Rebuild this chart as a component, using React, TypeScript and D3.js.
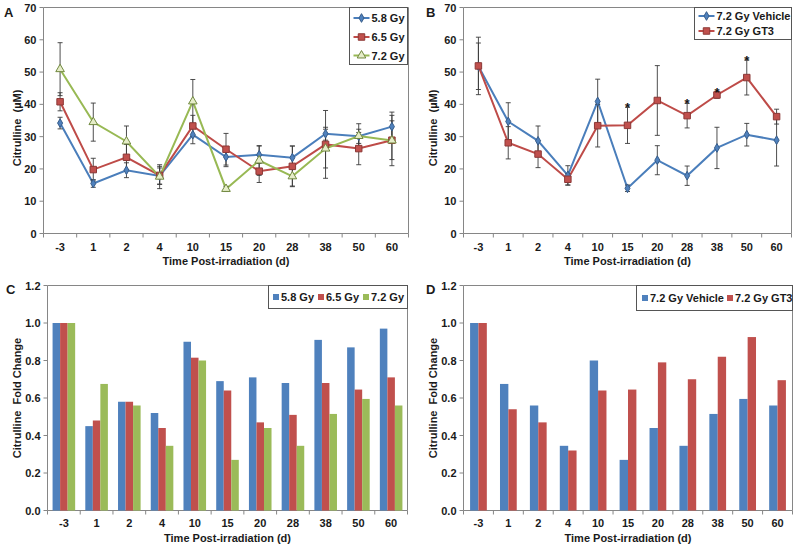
import React from "react";
import * as d3 from "d3";

// ---------- data ----------
const categories = ["-3", "1", "2", "4", "10", "15", "20", "28", "38", "50", "60"];

// Panel A: citrulline (µM) by dose
const a58 = [34.2, 15.5, 19.6, 17.8, 30.6, 23.7, 24.4, 23.5, 30.9, 30.1, 33.1];
const a58Err = [1.8, 1.2, 2.3, 2.5, 2.8, 3.0, 2.7, 3.6, 2.0, 2.2, 4.5];
const a65 = [40.8, 19.8, 23.6, 18.0, 33.3, 26.1, 19.3, 20.8, 27.6, 26.3, 28.9];
const a65Err = [2.8, 3.5, 4.0, 2.8, 3.3, 4.9, 3.5, 6.3, 10.5, 5.0, 6.0];
const a72 = [50.9, 34.5, 28.5, 17.6, 40.9, 13.8, 22.6, 17.7, 26.3, 30.2, 28.8];
const a72Err = [8.2, 5.9, 4.8, 3.7, 6.8, 0.8, 4.6, 3.0, 6.0, 3.8, 7.8];

// Panel B: 7.2 Gy vehicle vs GT3
const bVeh = [51.8, 34.7, 28.7, 18.0, 40.9, 14.0, 22.7, 17.9, 26.5, 30.6, 28.9];
const bVehErr = [7.2, 5.8, 4.6, 3.0, 6.9, 1.0, 4.5, 3.0, 6.4, 3.5, 8.0];
const bGt3 = [51.9, 28.1, 24.6, 16.8, 33.4, 33.5, 41.2, 36.5, 42.9, 48.3, 36.2];
const bGt3Err = [8.9, 5.0, 4.2, 1.8, 6.6, 5.6, 10.8, 3.8, 1.0, 5.4, 2.3];
const bStars = ["15", "28", "38", "50"];

// Panel C: fold change by dose
const c58 = [1.0, 0.45, 0.58, 0.52, 0.9, 0.69, 0.71, 0.68, 0.91, 0.87, 0.97];
const c65 = [1.0, 0.48, 0.58, 0.44, 0.815, 0.64, 0.47, 0.51, 0.68, 0.645, 0.71];
const c72 = [1.0, 0.675, 0.56, 0.345, 0.8, 0.27, 0.44, 0.345, 0.515, 0.595, 0.56];

// Panel D: fold change vehicle vs GT3
const dVeh = [1.0, 0.675, 0.56, 0.345, 0.8, 0.27, 0.44, 0.345, 0.515, 0.595, 0.56];
const dGt3 = [1.0, 0.54, 0.47, 0.32, 0.64, 0.645, 0.79, 0.7, 0.82, 0.925, 0.695];

const ticksUM = [0, 10, 20, 30, 40, 50, 60, 70];
const ticksFold = [0, 0.2, 0.4, 0.6, 0.8, 1.0, 1.2];

// ---------- styles ----------
const FONT = "'Liberation Sans', Arial, Helvetica, sans-serif";
const AXIS = "#868686";
const BLUE = "#4F81BD";
const RED = "#C0504D";
const GREEN = "#9BBB59";

type Box = { l: number; r: number; t: number; b: number };

type LineSeries = {
  name: string;
  values: number[];
  errs: number[];
  line: string;
  fill: string;
  stroke: string;
  shape: d3.SymbolType;
  size: number;
};

function Frame({
  box, y, ticks, fmt, x, yTitle, yTitleX, yTitleY, letter, letterX, letterY, labelDy,
}: {
  box: Box; y: d3.ScaleLinear<number, number>; ticks: number[]; fmt: (v: number) => string;
  x: d3.ScaleBand<string>; yTitle: string; yTitleX: number; yTitleY: number;
  letter: string; letterX: number; letterY: number; labelDy: number;
}) {
  const bw = x.bandwidth();
  return (
    <g fontFamily={FONT} fontWeight="bold">
      <line x1={box.l} x2={box.r} y1={box.t} y2={box.t} stroke={AXIS} strokeWidth={1} />
      <line x1={box.r} x2={box.r} y1={box.t} y2={box.b} stroke={AXIS} strokeWidth={1} />
      <line x1={box.l} x2={box.l} y1={box.t} y2={box.b} stroke={AXIS} strokeWidth={1} />
      <line x1={box.l} x2={box.r} y1={box.b} y2={box.b} stroke={AXIS} strokeWidth={1} />
      {ticks.map((t) => (
        <g key={"yt" + t}>
          <line x1={box.l - 4} x2={box.l} y1={y(t)} y2={y(t)} stroke={AXIS} />
          <text x={box.l - 7} y={y(t)} textAnchor="end" dominantBaseline="central" fontSize={11} fill="#1a1a1a">
            {fmt(t)}
          </text>
        </g>
      ))}
      {categories.map((c, i) => (
        <line key={"xt" + i} x1={(x(c) as number)} x2={(x(c) as number)} y1={box.b} y2={box.b + 4} stroke={AXIS} />
      ))}
      <line x1={box.r} x2={box.r} y1={box.b} y2={box.b + 4} stroke={AXIS} />
      {categories.map((c) => (
        <text key={"xl" + c} x={(x(c) as number) + bw / 2} y={box.b + labelDy} textAnchor="middle"
          dominantBaseline="central" fontSize={11} fill="#1a1a1a">
          {c}
        </text>
      ))}
      <text x={(box.l + box.r) / 2} y={box.b + 27} textAnchor="middle" dominantBaseline="central" fontSize={11} fill="#1a1a1a">
        Time Post-irradiation (d)
      </text>
      <text transform={`translate(${yTitleX},${yTitleY}) rotate(-90)`} textAnchor="middle" dominantBaseline="central"
        fontSize={11} fill="#1a1a1a" style={{ whiteSpace: "pre" }}>
        {yTitle}
      </text>
      <text x={letterX} y={letterY} fontSize={13} fill="#1a1a1a" dominantBaseline="central">
        {letter}
      </text>
    </g>
  );
}

function LinePanel({
  box, series, letter, letterX, yTitleX, legendBox, legendRows, stars, starSeries,
}: {
  box: Box; series: LineSeries[]; letter: string; letterX: number; yTitleX: number;
  legendBox: Box; legendRows: number[]; stars?: string[]; starSeries?: number;
}) {
  const x = d3.scaleBand<string>().domain(categories).range([box.l, box.r]).padding(0);
  const y = d3.scaleLinear().domain([0, 70]).range([box.b, box.t]);
  const bw = x.bandwidth();
  const cx = (c: string) => (x(c) as number) + bw / 2;
  const line = d3.line<number>().x((_, i) => cx(categories[i])).y((v) => y(v));
  const sym = (s: LineSeries) => d3.symbol().type(s.shape).size(s.size)() as string;
  return (
    <g>
      <Frame box={box} y={y} ticks={ticksUM} fmt={(v) => String(v)} x={x} yTitle={"Citrulline  (µM)"}
        yTitleX={yTitleX} yTitleY={128} letter={letter} letterX={letterX} letterY={12} labelDy={13.5} />
      {series.map((s) => (
        <path key={"l" + s.name} d={line(s.values) as string} fill="none" stroke={s.line} strokeWidth={2} />
      ))}
      {series.map((s) => (
        <g key={"e" + s.name} stroke="#3a3a3a" strokeWidth={0.9}>
          {s.values.map((v, i) => {
            const xc = cx(categories[i]);
            const y1 = y(v + s.errs[i]);
            const y2 = y(v - s.errs[i]);
            return (
              <g key={i}>
                <line x1={xc} x2={xc} y1={y1} y2={y2} />
                <line x1={xc - 2.5} x2={xc + 2.5} y1={y1} y2={y1} />
                <line x1={xc - 2.5} x2={xc + 2.5} y1={y2} y2={y2} />
              </g>
            );
          })}
        </g>
      ))}
      {series.map((s) => (
        <g key={"m" + s.name}>
          {s.values.map((v, i) => (
            <path key={i} d={sym(s)} transform={`translate(${cx(categories[i])},${y(v)})`} fill={s.fill}
              stroke={s.stroke} strokeWidth={1} />
          ))}
        </g>
      ))}
      {stars && starSeries !== undefined &&
        stars.map((c) => {
          const s = series[starSeries];
          const i = categories.indexOf(c);
          return (
            <text key={"st" + c} x={cx(c)} y={y(s.values[i] + s.errs[i]) + 5} textAnchor="middle" fontSize={13}
              fontWeight="bold" fontFamily={FONT} fill="#111">
              *
            </text>
          );
        })}
      <rect x={legendBox.l} y={legendBox.t} width={legendBox.r - legendBox.l} height={legendBox.b - legendBox.t}
        fill="#fff" stroke="#555" strokeWidth={1} />
      {series.map((s, k) => {
        const ly = legendRows[k];
        const lx = legendBox.l + 4;
        return (
          <g key={"lg" + s.name}>
            <line x1={lx} x2={lx + 16} y1={ly} y2={ly} stroke={s.line} strokeWidth={2} />
            <path d={sym(s)} transform={`translate(${lx + 8},${ly})`} fill={s.fill} stroke={s.stroke} strokeWidth={1} />
            <text x={lx + 18} y={ly} dominantBaseline="central" fontFamily={FONT} fontWeight="bold" fontSize={11}
              fill="#1a1a1a">
              {s.name}
            </text>
          </g>
        );
      })}
    </g>
  );
}

function BarPanel({
  box, series, letter, letterX, yTitleX, groupFrac, legendBox, legendItemX,
}: {
  box: Box; series: { name: string; values: number[]; color: string }[]; letter: string; letterX: number;
  yTitleX: number; groupFrac: number; legendBox: Box; legendItemX: number[];
}) {
  const x = d3.scaleBand<string>().domain(categories).range([box.l, box.r]).padding(0);
  const y = d3.scaleLinear().domain([0, 1.2]).range([box.b, box.t]);
  const bw = x.bandwidth();
  const gw = bw * groupFrac;
  const x1 = d3.scaleBand<string>().domain(series.map((s) => s.name)).range([0, gw]).padding(0);
  const ly = (legendBox.t + legendBox.b) / 2;
  return (
    <g>
      <Frame box={box} y={y} ticks={ticksFold} fmt={d3.format(".1f")} x={x} yTitle={"Citrulline  Fold Change"}
        yTitleX={yTitleX} yTitleY={(box.t + box.b) / 2} letter={letter} letterX={letterX} letterY={box.t + 4}
        labelDy={12} />
      {series.map((s) => (
        <g key={s.name}>
          {s.values.map((v, i) => (
            <rect key={i} x={(x(categories[i]) as number) + (bw - gw) / 2 + (x1(s.name) as number)} y={y(v)}
              width={x1.bandwidth()} height={box.b - y(v)} fill={s.color} />
          ))}
        </g>
      ))}
      <rect x={legendBox.l} y={legendBox.t} width={legendBox.r - legendBox.l} height={legendBox.b - legendBox.t}
        fill="#fff" stroke="#555" strokeWidth={1} />
      {series.map((s, k) => (
        <g key={"lg" + s.name}>
          <rect x={legendItemX[k]} y={ly - 3} width={6} height={6} fill={s.color} />
          <text x={legendItemX[k] + 8} y={ly} dominantBaseline="central" fontFamily={FONT} fontWeight="bold"
            fontSize={11} fill="#1a1a1a">
            {s.name}
          </text>
        </g>
      ))}
    </g>
  );
}

export default function App() {
  const seriesA: LineSeries[] = [
    { name: "5.8 Gy", values: a58, errs: a58Err, line: "#4A7EBB", fill: "#4F81BD", stroke: "#385D8A", shape: d3.symbolDiamond, size: 22 },
    { name: "6.5 Gy", values: a65, errs: a65Err, line: "#BE4B48", fill: "#C0504D", stroke: "#8C3836", shape: d3.symbolSquare, size: 42 },
    { name: "7.2 Gy", values: a72, errs: a72Err, line: "#98B954", fill: "#E6EDC9", stroke: "#71893F", shape: d3.symbolTriangle, size: 32 },
  ];
  const seriesB: LineSeries[] = [
    { name: "7.2 Gy Vehicle", values: bVeh, errs: bVehErr, line: "#4A7EBB", fill: "#4F81BD", stroke: "#385D8A", shape: d3.symbolDiamond, size: 22 },
    { name: "7.2 Gy GT3", values: bGt3, errs: bGt3Err, line: "#BE4B48", fill: "#C0504D", stroke: "#8C3836", shape: d3.symbolSquare, size: 42 },
  ];
  return (
    <svg width={800} height={547} style={{ position: "absolute", left: 0, top: 0, background: "#fff" }}>
      <rect x={0} y={0} width={800} height={547} fill="#fff" />
      <LinePanel box={{ l: 43.5, r: 408.5, t: 7.5, b: 233.5 }} series={seriesA} letter="A" letterX={4} yTitleX={17}
        legendBox={{ l: 349.5, r: 407.5, t: 7.5, b: 64.5 }} legendRows={[18, 37, 55.5]} />
      <LinePanel box={{ l: 463.5, r: 791.5, t: 7.5, b: 233.5 }} series={seriesB} letter="B" letterX={426} yTitleX={433}
        legendBox={{ l: 694.5, r: 791.5, t: 7.5, b: 39.5 }} legendRows={[16, 31]} stars={bStars} starSeries={1} />
      <BarPanel box={{ l: 47.5, r: 407.5, t: 285.5, b: 510.5 }} letter="C" letterX={6} yTitleX={17} groupFrac={0.69}
        series={[
          { name: "5.8 Gy", values: c58, color: BLUE },
          { name: "6.5 Gy", values: c65, color: RED },
          { name: "7.2 Gy", values: c72, color: GREEN },
        ]}
        legendBox={{ l: 268.5, r: 407.5, t: 285.5, b: 308.5 }} legendItemX={[273, 318, 363]} />
      <BarPanel box={{ l: 463.5, r: 792.5, t: 285.5, b: 510.5 }} letter="D" letterX={426} yTitleX={433} groupFrac={0.56}
        series={[
          { name: "7.2 Gy Vehicle", values: dVeh, color: BLUE },
          { name: "7.2 Gy GT3", values: dGt3, color: RED },
        ]}
        legendBox={{ l: 636.5, r: 792.5, t: 285.5, b: 310.5 }} legendItemX={[642, 727]} />
    </svg>
  );
}
